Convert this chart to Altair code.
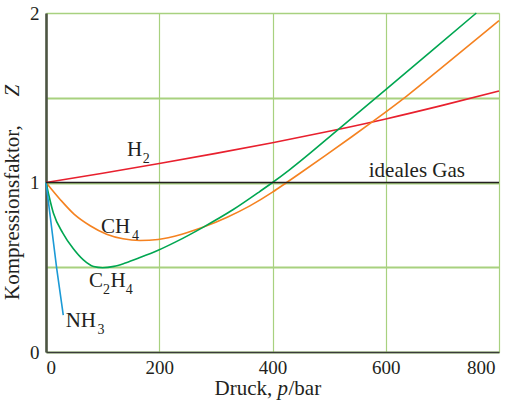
import altair as alt
import pandas as pd

# ---- data ----
p_h2 = [0, 100, 200, 300, 400, 500, 600, 700, 800]
z_h2 = [1.0, 1.055, 1.112, 1.172, 1.235, 1.302, 1.375, 1.455, 1.54]

p_ch4 = [0, 25, 50, 78, 107, 136, 166, 198, 240, 278, 320, 360, 400, 425, 448, 495, 540, 578, 637, 707, 800]
z_ch4 = [1.0, 0.9, 0.812, 0.745, 0.695, 0.668, 0.658, 0.664, 0.695, 0.737, 0.795, 0.862, 0.943, 1.0, 1.053, 1.163, 1.27, 1.362, 1.51, 1.70, 1.955]

p_c2h4 = [0, 13, 30, 48, 66, 84, 100, 120, 140, 166, 198, 230, 278, 330, 378, 400, 430, 519, 600, 680, 760]
z_c2h4 = [1.0, 0.82, 0.70, 0.61, 0.543, 0.504, 0.497, 0.505, 0.525, 0.557, 0.60, 0.651, 0.737, 0.839, 0.948, 1.0, 1.075, 1.321, 1.548, 1.774, 2.0]

p_nh3 = [0, 19, 30.5]
z_nh3 = [1.0, 0.49, 0.218]

p_ideal = [0, 800]
z_ideal = [1.0, 1.0]

series_names = ["H2", "CH4", "C2H4", "NH3", "ideal"]
series_colors = ["#e8202e", "#f58220", "#00a651", "#1b9ad6", "#231f20"]

x_ticks = [0, 200, 400, 600, 800]
y_ticks = [0, 0.5, 1, 1.5, 2]

# curve labels: main text and subscripts
lab_main_text = ["H", "CH", "C", "H", "NH", "ideales Gas"]
lab_main_p = [143, 97, 76, 114, 34.8, 570]
lab_main_z = [1.157, 0.703, 0.386, 0.386, 0.149, 1.035]
lab_sub_text = ["2", "4", "2", "4", "3"]
lab_sub_p = [171, 152, 100.5, 141, 91]
lab_sub_z = [1.116, 0.661, 0.342, 0.342, 0.106]

FONT = "Liberation Serif"
TXT = "#231f20"
GRID = "#a8d17f"

# ---- build tables ----
rows = []
for name, ps, zs in [("H2", p_h2, z_h2), ("CH4", p_ch4, z_ch4), ("C2H4", p_c2h4, z_c2h4),
                     ("NH3", p_nh3, z_nh3), ("ideal", p_ideal, z_ideal)]:
    for i, (p, z) in enumerate(zip(ps, zs)):
        rows.append({"gas": name, "p": p, "z": z, "i": i})
df = pd.DataFrame(rows)

lab_main = pd.DataFrame({"t": lab_main_text, "p": lab_main_p, "z": lab_main_z})
lab_sub = pd.DataFrame({"t": lab_sub_text, "p": lab_sub_p, "z": lab_sub_z})

xscale = alt.Scale(domain=[0, 800], nice=False, zero=True)
yscale = alt.Scale(domain=[0, 2], nice=False, zero=True)

xaxis = alt.Axis(values=x_ticks, title=None, grid=True, gridColor=GRID, gridWidth=1.2,
                 ticks=False, domainColor="#3b3b3b", domainWidth=1.6,
                 labelFont=FONT, labelFontSize=19, labelColor=TXT, labelPadding=6,
                 labelOffset={"condition": {"test": "datum.value == 800", "value": -4}, "value": 0})
yaxis = alt.Axis(values=y_ticks, title=None, grid=True, gridColor=GRID,
                 gridWidth={"condition": {"test": "datum.value == 2", "value": 1.3}, "value": 2.2},
                 ticks=False, domainColor="#4d5543", domainWidth=2.6, labelOverlap=False,
                 labelExpr="datum.value == 0 ? '0' : datum.value == 1 ? '1' : datum.value == 2 ? '2' : ''",
                 labelFont=FONT, labelFontSize=19, labelColor=TXT, labelPadding=7)

lines = alt.Chart(df).mark_line(strokeWidth=1.6, interpolate="monotone").encode(
    x=alt.X("p:Q", scale=xscale, axis=xaxis),
    y=alt.Y("z:Q", scale=yscale, axis=yaxis),
    color=alt.Color("gas:N", scale=alt.Scale(domain=series_names, range=series_colors), legend=None),
    order="i:Q",
)

main_text = alt.Chart(lab_main).mark_text(font=FONT, fontSize=21, color=TXT, align="left",
                                          baseline="alphabetic").encode(
    x=alt.X("p:Q", scale=xscale), y=alt.Y("z:Q", scale=yscale), text="t:N")
sub_text = alt.Chart(lab_sub).mark_text(font=FONT, fontSize=14, color=TXT, align="left",
                                        baseline="alphabetic").encode(
    x=alt.X("p:Q", scale=xscale), y=alt.Y("z:Q", scale=yscale), text="t:N")

one = pd.DataFrame({"k": [0]})


def tpiece(text, x, y, italic=False, angle=0):
    kw = dict(font=FONT, fontSize=21, color=TXT, align="left", baseline="alphabetic", text=text)
    if italic:
        kw["fontStyle"] = "italic"
    if angle:
        kw["angle"] = angle
    return alt.Chart(one).mark_text(**kw).encode(x=alt.value(x), y=alt.value(y))


titles = [
    tpiece("Druck, ", 168.5, 382),
    tpiece("p", 231.5, 382, italic=True),
    tpiece("/bar", 242.5, 382),
    tpiece("Kompressionsfaktor,", -27, 287, angle=270),
    tpiece("Z", -27, 83.5, italic=True, angle=270),
]

chart = alt.layer(lines, main_text, sub_text, *titles).properties(
    width=453, height=339,
    autosize=alt.AutoSizeParams(type="none"),
    padding={"left": 46, "top": 13, "right": 12, "bottom": 52},
).configure_view(stroke=None).configure(background="white")

chart.save("out.html", embed_options={"renderer": "svg", "actions": False})
